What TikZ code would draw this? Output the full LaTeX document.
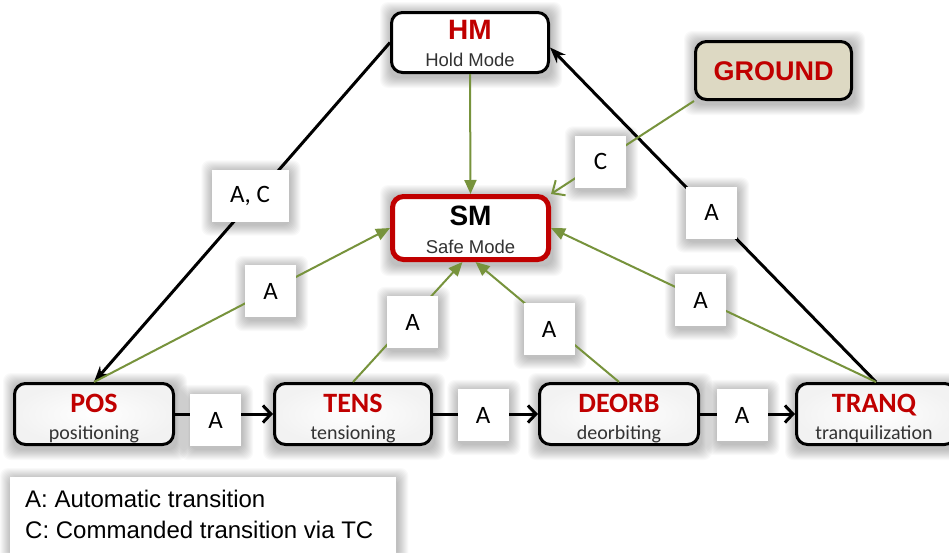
\documentclass[tikz,border=0pt]{standalone}
\usepackage{fontspec}
\setmainfont{Liberation Sans}
\newfontfamily\calfont{Carlito}
\usetikzlibrary{arrows.meta,backgrounds,calc}
\definecolor{myred}{RGB}{192,0,0}
\definecolor{mygreen}{RGB}{119,147,60}
\definecolor{mytan}{RGB}{221,217,195}
\tikzset{
  box/.style={draw=black, line width=3pt, rounded corners=11pt, fill=white, inner sep=0pt},
  topbox/.style={box, minimum width=157pt, minimum height=60pt},
  modebox/.style={box, minimum width=159pt, minimum height=61pt, inner color=white, outer color=black!5},
  bigtitle/.style={font=\bfseries\fontsize{28}{28}\selectfont, inner sep=0pt, anchor=base},
  bigsub/.style={font=\fontsize{18.5}{18.5}\selectfont, text=black!80, inner sep=0pt, anchor=base},
  title/.style={font=\calfont\bfseries\fontsize{28}{28}\selectfont, text=myred, inner sep=0pt, anchor=base},
  sub/.style={font=\calfont\fontsize{20}{20}\selectfont, text=black!80, inner sep=0pt, anchor=base},
  lab/.style={fill=white, minimum width=51pt, minimum height=52pt, inner sep=0pt, font=\calfont\fontsize{25}{25}\selectfont},
  blk/.style={draw=black, line width=3pt},
  grn/.style={draw=mygreen, line width=2pt},
  stk/.style={-{Stealth[length=16pt,width=12pt]}},
  barb/.style={-{Straight Barb[length=8pt,width=17pt]}},
  tri/.style={-{Triangle[length=14pt,width=12pt]}},
  gbarb/.style={-{Straight Barb[length=10pt,width=18pt]}},
  leg/.style={font=\fontsize{24}{24}\selectfont, inner sep=0pt, anchor=base west},
  shadowstep/.style={fill=black, opacity=0.022, rounded corners=8pt}
}
\begin{document}
\begin{tikzpicture}[x=1pt,y=-1pt]
\useasboundingbox (0,0) rectangle (949,552);

% mode boxes
\node[topbox] (hm) at (470,42.5) {};
\node[bigtitle, text=myred] (hmt) at (470,39) {HM};
\node[bigsub] (hms) at (470,66) {Hold Mode};

\node[box, fill=mytan, minimum width=156pt, minimum height=58pt] (gr) at (773.5,70.5) {};
\node[bigtitle, text=myred, font=\bfseries\fontsize{27}{27}\selectfont] (grt) at (773.5,80) {GROUND};

\node[box, draw=myred, line width=5pt, minimum width=156pt, minimum height=63pt] (sm) at (470.5,228) {};
\node[bigtitle] (smt) at (470.5,225) {SM};
\node[bigsub] (sms) at (470.5,253) {Safe Mode};

\node[modebox] (pos) at (94,414) {};
\node[title] (post) at (94,412) {POS};
\node[sub] (poss) at (94,439) {positioning};

\node[modebox, minimum width=157pt] (tens) at (353,414) {};
\node[title] (tenst) at (353,412) {TENS};
\node[sub] (tenss) at (353,439) {tensioning};

\node[modebox] (deorb) at (619,414) {};
\node[title] (deorbt) at (619,412) {DEORB};
\node[sub] (deorbs) at (619,439) {deorbiting};

\node[modebox] (tranq) at (876,414) {};
\node[title] (tranqt) at (874,412) {TRANQ};
\node[sub] (tranqs) at (874,439) {tranquilization};

% legend
\node[fill=white, minimum width=386pt, minimum height=90pt, anchor=north west, inner sep=0pt] (legbox) at (10,477) {};
\node[leg] (l1) at (25,507) {A: Automatic transition};
\node[leg] (l2) at (25,538) {C: Commanded transition via TC};

% connectors
\draw[blk, stk] (hm.west) -- (pos.north);
\draw[blk, stk] (tranq.north) -- ([yshift=-5pt]hm.east);
\draw[grn, tri] (hm.south) -- (sm.north);
\draw[grn, gbarb] (gr.south west) -- (sm.north east);
\draw[grn, tri] (pos.north) -- (sm.west);
\draw[grn, tri] (tens.north) -- ([xshift=-8pt]sm.south);
\draw[grn, tri] (deorb.north) -- ([xshift=5pt]sm.south);
\draw[grn, tri] (tranq.north) -- (sm.east);
\draw[blk, barb] (pos.east) -- (tens.west);
\draw[blk, barb] (tens.east) -- (deorb.west);
\draw[blk, barb] (deorb.east) -- (tranq.west);

% labels
\node[lab, minimum width=77pt] (lac) at (250,195.5) {A, C};
\node[lab] (la1) at (270.5,291) {A};
\node[lab] (lc) at (600.5,161.5) {C};
\node[lab] (la2) at (711.5,212.5) {A};
\node[lab] (la3) at (700.5,300) {A};
\node[lab] (la4) at (412.5,322) {A};
\node[lab] (la5) at (549,329) {A};
\node[lab] (la6) at (215.5,420) {A};
\node[lab] (la7) at (483,415) {A};
\node[lab] (la8) at (742,415) {A};

% soft shadows
\begin{scope}[on background layer]
\fill[white] (0,0) rectangle (949,552);
\foreach \n in {hm,gr,sm,pos,tens,deorb,tranq,legbox,lac,la1,lc,la2,la3,la4,la5,la6,la7,la8}{
  \foreach \i in {1,...,11}{
    \fill[shadowstep] ($(\n.north west)+(1-\i,2-\i)$) rectangle ($(\n.south east)+(1+\i,3+\i)$);
  }
}
\end{scope}
\end{tikzpicture}
\end{document}
